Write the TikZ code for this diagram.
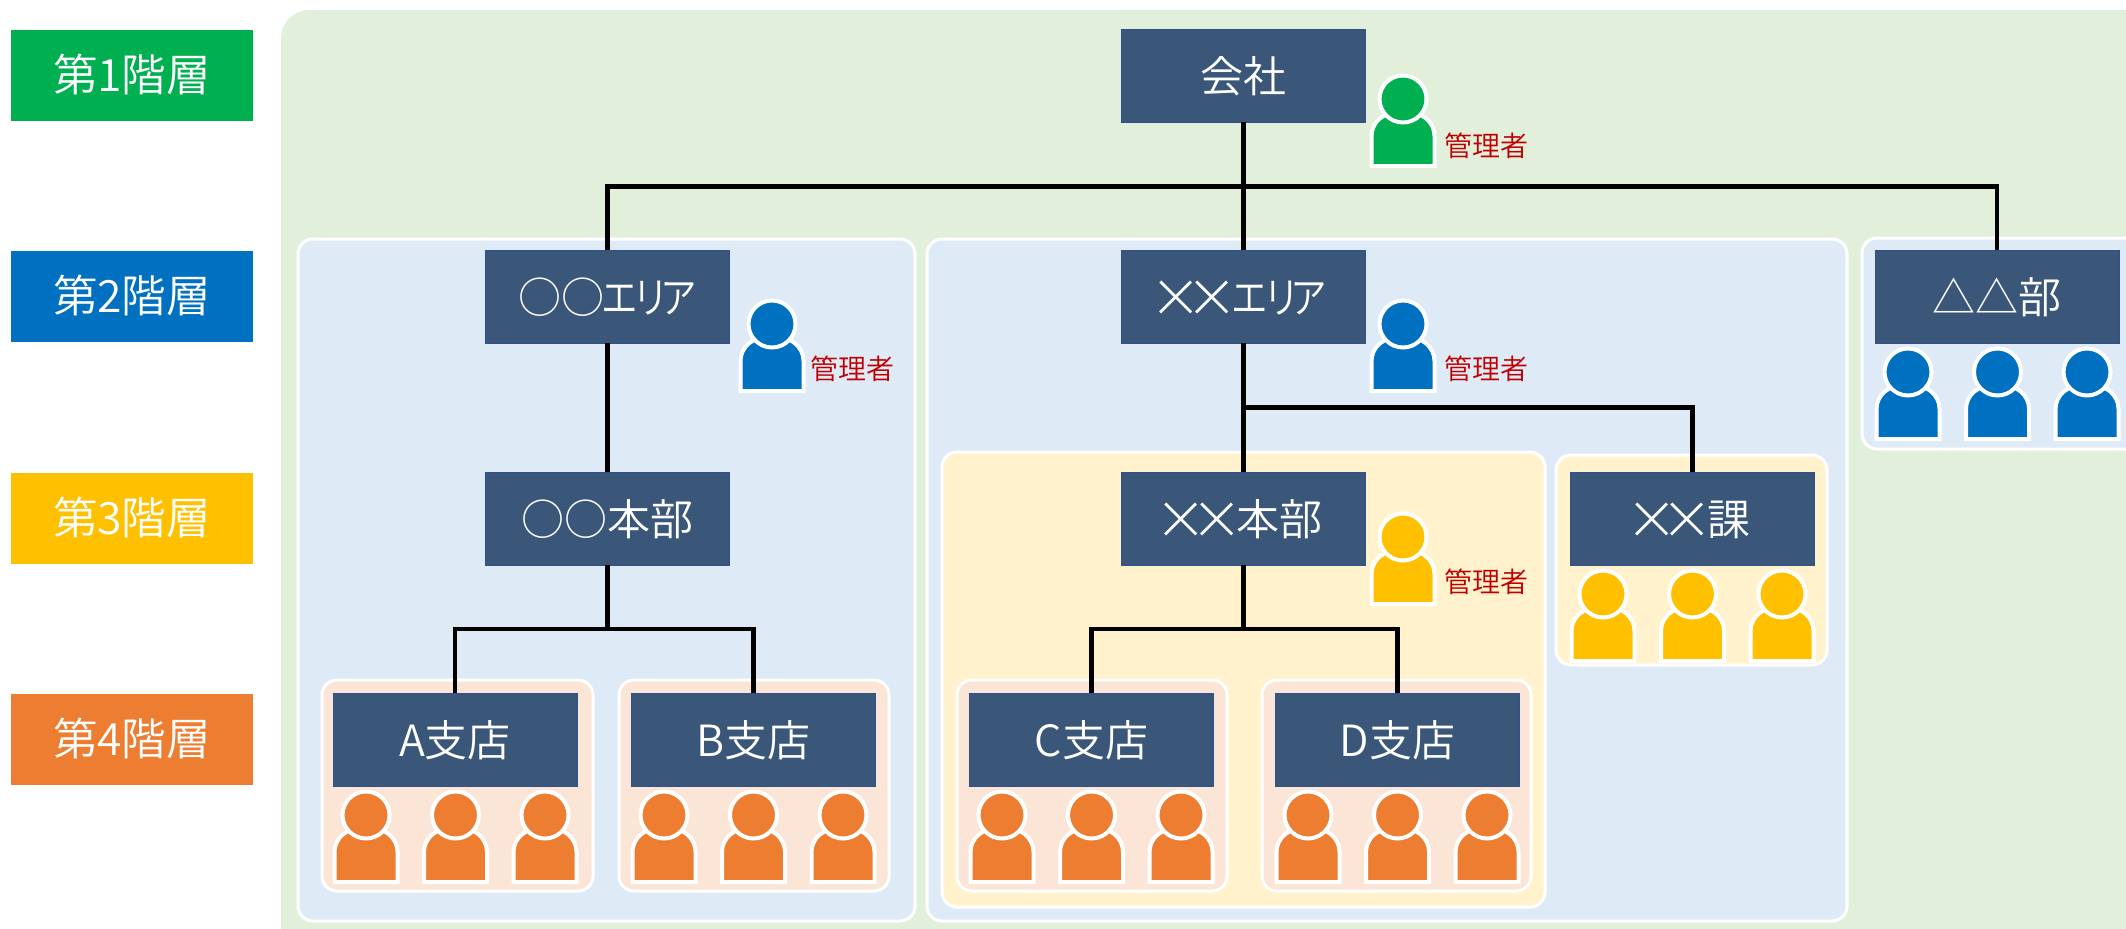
\documentclass[tikz,border=0pt]{standalone}
\usepackage{fontspec}
\setmainfont{Noto Sans CJK JP DemiLight}
\newfontfamily\xfont{Lato Light}
\definecolor{tgreen}{HTML}{00B050}
\definecolor{tblue}{HTML}{0070C0}
\definecolor{tyellow}{HTML}{FFC000}
\definecolor{torange}{HTML}{ED7D31}
\definecolor{bggreen}{HTML}{E2EFDA}
\definecolor{bgblue}{HTML}{DEEAF6}
\definecolor{bgyellow}{HTML}{FFF2CC}
\definecolor{bgorange}{HTML}{FBE5D6}
\definecolor{darkbox}{HTML}{3A5779}
\definecolor{darkedge}{HTML}{2F528F}
\definecolor{mgr}{HTML}{C00000}
\tikzset{
  tier/.style={fill=#1,draw=none,text=white,minimum width=242pt,minimum height=91pt,inner sep=0pt,text height=40pt,text depth=8.4pt,font=\fontsize{44.5}{50}\selectfont},
  orgbox/.style={fill=darkbox,draw=darkedge,line width=0.8pt,text=white,minimum width=244pt,minimum height=93pt,inner sep=0pt,text height=40pt,text depth=6.1pt,font=\fontsize{43}{50}\selectfont},
  link/.style={draw=black,line width=4.3pt},
  panel/.style={fill=#1,draw=white,line width=3pt,rounded corners=15pt},
  mgrlabel/.style={text=mgr,inner sep=0pt,font=\fontsize{28}{33}\selectfont},
}
\newcommand{\pers}[3]{%
  \begin{scope}[shift={(#1,#2)}]
    \path[fill=#3,draw=white,line width=4pt,miter limit=10] (-31.5,67) -- (-31.5,37) .. controls (-31.5,23) and (-19,12) .. (0,12) .. controls (19,12) and (31.5,23) .. (31.5,37) -- (31.5,67) -- cycle;
    \path[fill=#3,draw=white,line width=4pt] (0,0) circle (23.5);
  \end{scope}}
\newcommand{\trio}[3]{\pers{#1-89.5}{#2}{#3}\pers{#1}{#2}{#3}\pers{#1+89.5}{#2}{#3}}
\newcommand{\xx}{\kern-6pt\raisebox{-10.5pt}{\fontsize{78}{86}\selectfont\xfont ×\kern-9.5pt ×}\kern-3pt}
\newcommand{\eria}{\scalebox{0.85}[1]{エ\kern-6pt リ\kern-11pt ア}}
\begin{document}
\begin{tikzpicture}[x=1pt,y=-1pt]
\useasboundingbox (0,0) rectangle (2126,929);
\clip (0,0) rectangle (2126,929);
% tiers
\node[tier=tgreen] (t1) at (132,75.5) {第1階層};
\node[tier=tblue] (t2) at (132,296.5) {第2階層};
\node[tier=tyellow] (t3) at (132,518.5) {第3階層};
\node[tier=torange] (t4) at (132,739.5) {第4階層};
% panels
\path[fill=bggreen,rounded corners=28pt] (281,10) rectangle (2170,960);
\path[panel=bgblue] (298,239) rectangle (915,921);
\path[panel=bgblue] (927,239) rectangle (1847,921);
\path[panel=bgblue] (1862,238) rectangle (2150,449);
\path[panel=bgyellow] (942,452) rectangle (1545,907);
\path[panel=bgyellow] (1556,455) rectangle (1827,665);
\path[panel=bgorange] (322,680) rectangle (593,891);
\path[panel=bgorange] (619,680) rectangle (889,891);
\path[panel=bgorange] (957,680) rectangle (1227,891);
\path[panel=bgorange] (1262,680) rectangle (1531,891);
% boxes
\node[orgbox] (co) at (1243.5,75.5) {会社};
\node[orgbox] (a1) at (607.5,296.5) {○○\kern-3pt\eria};
\node[orgbox] (a2) at (1243.5,296.5) {\xx\eria};
\node[orgbox] (a3) at (1997,296.5) {△△部};
\node[orgbox] (h1) at (607.5,518.5) {○○本部};
\node[orgbox] (h2) at (1243.5,518.5) {\xx 本部};
\node[orgbox] (ka) at (1692.5,518.5) {\xx 課};
\node[orgbox] (sa) at (455,740) {A支店};
\node[orgbox] (sb) at (753.5,740) {B支店};
\node[orgbox] (sc) at (1091.5,740) {C支店};
\node[orgbox] (sd) at (1397.5,740) {D支店};
% connectors
\coordinate (j1) at (1243.5,186.5);
\coordinate (j2) at (1243.5,407.5);
\coordinate (j3) at (607.5,629);
\coordinate (j4) at (1243.5,629);
\draw[link] (co.south) -- (a2.north);
\draw[link] (a1.north) |- (j1) -| (a3.north);
\draw[link] (a1.south) -- (h1.north);
\draw[link] (a2.south) -- (h2.north);
\draw[link] (j2) -| (ka.north);
\draw[link] (h1.south) -- (j3);
\draw[link] (sa.north) |- (j3) -| (sb.north);
\draw[link] (h2.south) -- (j4);
\draw[link] (sc.north) |- (j4) -| (sd.north);
% people
\pers{1403}{99}{tgreen}
\pers{772}{324}{tblue}
\pers{1403}{324}{tblue}
\pers{1403}{537}{tyellow}
\trio{1997.5}{372}{tblue}
\trio{1692.5}{594}{tyellow}
\trio{455.5}{815}{torange}
\trio{753.5}{815}{torange}
\trio{1091.5}{815}{torange}
\trio{1397.5}{815}{torange}
% labels
\node[mgrlabel] (m1) at (1486,146) {管理者};
\node[mgrlabel] (m2) at (852,369) {管理者};
\node[mgrlabel] (m3) at (1486,369) {管理者};
\node[mgrlabel] (m4) at (1486,582) {管理者};
\end{tikzpicture}
\end{document}
